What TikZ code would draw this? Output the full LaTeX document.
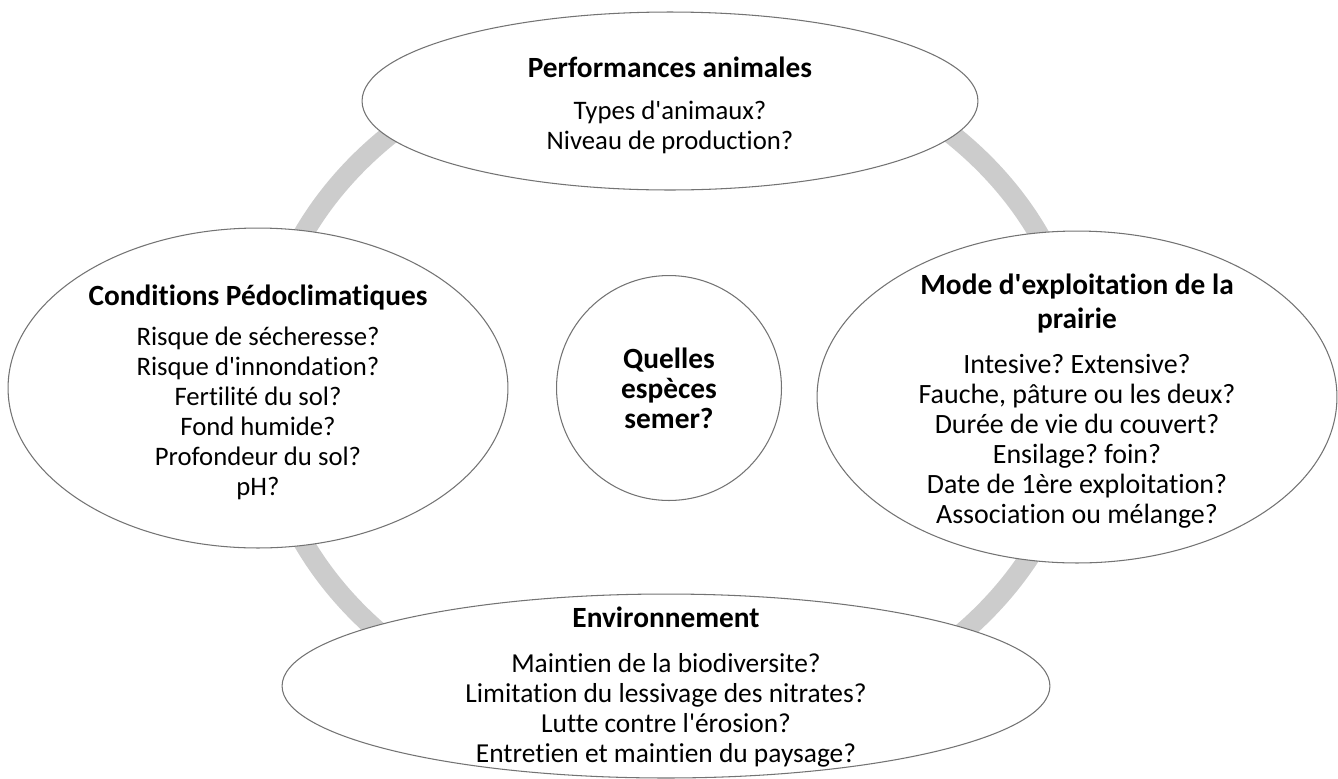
\documentclass[tikz,border=0pt]{standalone}
\usepackage{fontspec}
\setmainfont{Carlito}[Ligatures=NoCommon]
\usetikzlibrary{shapes.geometric}
\newcommand\ap{\textquotesingle}
\newcommand\titl[1]{{\fontsize{16.7}{17}\selectfont\bfseries #1}}

\begin{document}
\begin{tikzpicture}[
    x=0.02cm, y=-0.02cm,
    bubble/.style={draw=black!55, line width=0.6pt, fill=white, ellipse, inner sep=0pt},
    txt/.style={align=center, inner sep=0pt, font=\fontsize{#1}{17}\selectfont\frenchspacing},
    low/.style={yshift=-0.08cm}
]
    \useasboundingbox (0,0) rectangle (1338,778);

    % Ring behind the bubbles
    \draw[black!20, line width=0.4cm] (671,388) ellipse (8.2cm and 6.96cm);

    % Top
    \node[bubble, minimum width=12.32cm, minimum height=3.56cm] (perf) at (670,101) {};
    \node[txt=15.2, low] (perf-txt) at (perf.center) {\titl{Performances animales}\\[7pt]
        Types d\ap animaux?\\ Niveau de production?};

    % Left
    \node[bubble, minimum width=10cm, minimum height=6.4cm] (pedo) at (258,388) {};
    \node[txt=15.2, low] (pedo-txt) at (pedo.center) {\titl{Conditions Pédoclimatiques}\\[6pt]
        Risque de sécheresse?\\ Risque d\ap innondation?\\ Fertilité du sol?\\
        Fond humide?\\ Profondeur du sol?\\ pH?};

    % Centre
    \node[bubble, circle, minimum size=4.5cm] (quest) at (669,388) {};
    \node[txt=15.2] (quest-txt) at (quest.center) {\titl{Quelles}\\ \titl{espèces}\\ \titl{semer?}};

    % Right
    \node[bubble, minimum width=10.4cm, minimum height=6.64cm] (mode) at (1077,397) {};
    \node[txt=15.9, low] (mode-txt) at (mode.center) {\titl{Mode d\ap exploitation de la}\\[2pt] \titl{prairie}\\[9pt]
        Intesive? Extensive?\\ Fauche, pâture ou les deux?\\ Durée de vie du couvert?\\
        Ensilage? foin?\\ Date de 1ère exploitation?\\ Association ou mélange?};

    % Bottom
    \node[bubble, minimum width=15.36cm, minimum height=3.68cm] (env) at (666,686) {};
    \node[txt=15.6, yshift=-0.02cm] (env-txt) at (env.center) {\titl{Environnement}\\[8.5pt]
        Maintien de la biodiversite?\\ Limitation du lessivage des nitrates?\\
        Lutte contre l\ap érosion?\\ Entretien et maintien du paysage?};
\end{tikzpicture}
\end{document}
